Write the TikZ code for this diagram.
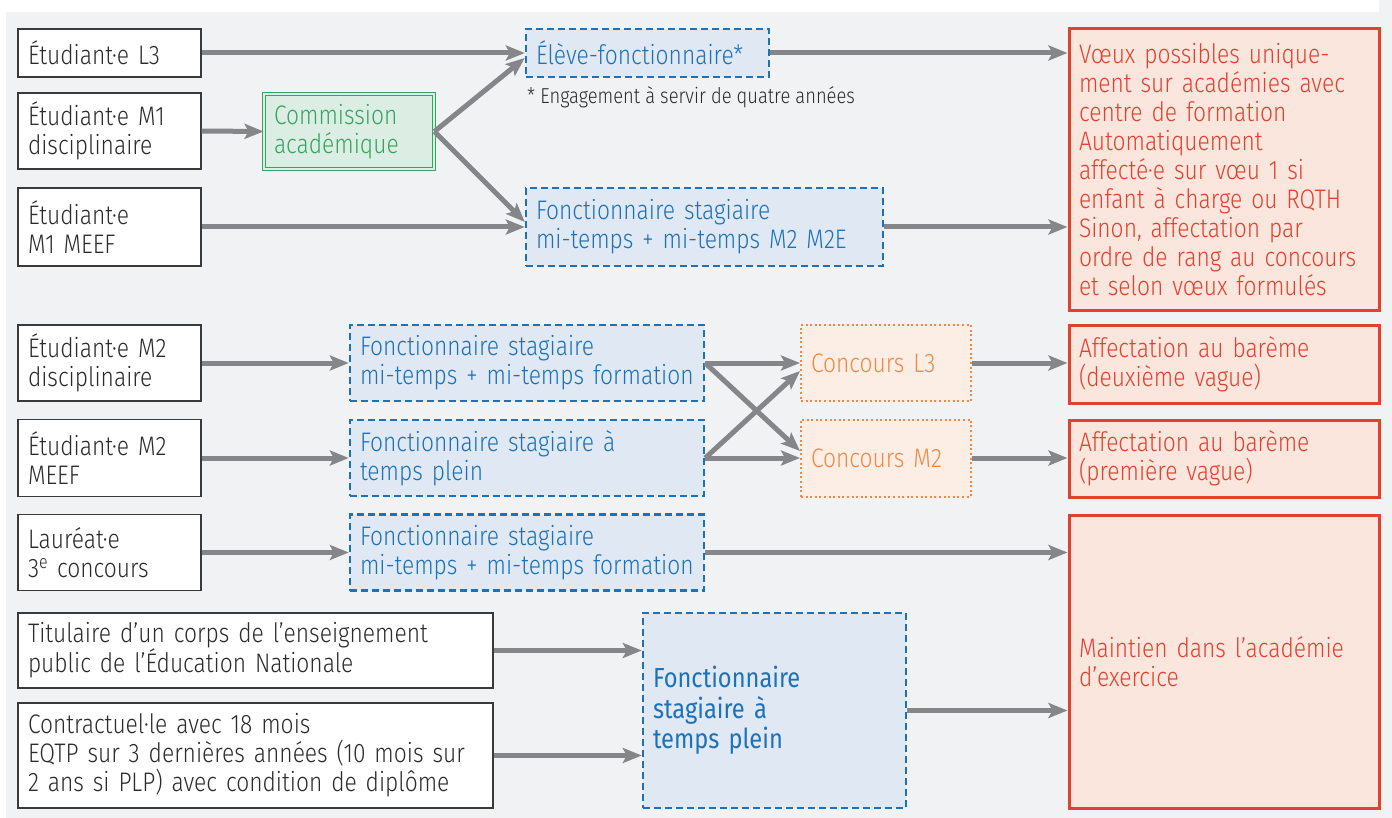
\documentclass[tikz,border=0pt]{standalone}
\usepackage{fontspec}
\setmainfont{Fira Sans Light}[FakeStretch=0.85]
\newfontfamily\medfont{Fira Sans}[FakeStretch=0.86]
\usetikzlibrary{arrows.meta}
\lefthyphenmin=64
\hyphenpenalty=10000
\definecolor{bgc}{HTML}{F1F2F4}
\definecolor{txtc}{HTML}{2B2B2B}
\definecolor{boxc}{HTML}{3A3A3A}
\definecolor{bluec}{HTML}{1B72B8}
\definecolor{bluef}{HTML}{E0E8F3}
\definecolor{greenc}{HTML}{35A463}
\definecolor{greenf}{HTML}{DCEEE3}
\definecolor{orangec}{HTML}{F08945}
\definecolor{orangef}{HTML}{FCEEE4}
\definecolor{redc}{HTML}{E2412F}
\definecolor{redf}{HTML}{FAE6DD}
\definecolor{arrc}{HTML}{85868A}
\begin{document}
\begin{tikzpicture}[x=1pt,y=-1pt,
  base/.style={rectangle, inner xsep=10pt, inner ysep=0pt, align=left, anchor=center,
    font=\fontsize{26.8}{29}\selectfont},
  wbox/.style={base, draw=boxc, line width=1.4pt, fill=white, text=txtc},
  bbox/.style={base, draw=bluec, line width=2.4pt, dash pattern=on 7pt off 4pt, fill=bluef, text=bluec},
  gbox/.style={base, draw=greenc, line width=0.9pt, double=greenf, double distance=1.6pt, fill=greenf, text=greenc},
  obox/.style={base, draw=orangec, line width=2pt, dash pattern=on 2pt off 2.6pt, fill=orangef, text=orangec},
  rbox/.style={base, draw=redc, line width=3pt, fill=redf, text=redc},
  arr/.style={draw=arrc, line width=5pt, -{Stealth[length=19pt,width=15pt,inset=4pt]}},
  sz/.style n args={3}{minimum width=#1pt, minimum height=#2pt, text width=#3pt}
]
\useasboundingbox (0,0) rectangle (1392,818);
\fill[bgc] (6,12) rectangle (1392,818);
\fill[bgc] (1379,0) rectangle (1392,12);

% left column
\node[wbox, sz={183}{48}{163}] (s1) at (109.5,53) {Étudiant·e L3};
\node[wbox, sz={183}{76}{163}] (s2) at (109.5,131) {Étudiant·e M1\\disciplinaire};
\node[wbox, sz={183}{78}{163}] (s3) at (109.5,227) {Étudiant·e\\M1 MEEF};
\node[wbox, sz={183}{76}{163}] (s4) at (109.5,363) {Étudiant·e M2\\disciplinaire};
\node[wbox, sz={183}{77}{163}] (s5) at (109.5,458) {Étudiant·e M2\\MEEF};
\node[wbox, sz={183}{76}{163}] (s6) at (109.5,552.5) {Lauréat·e\\3\textsuperscript{e} concours};
\node[wbox, sz={475}{75}{455}] (tit) at (255.5,650.5) {Titulaire d’un corps de l’enseignement\\public de l’Éducation Nationale};
\node[wbox, sz={475}{105}{455}] (con) at (255.5,755.5) {Contractuel·le avec 18 mois\\EQTP sur 3 dernières années (10 mois sur\\2 ans si PLP) avec condition de diplôme};

% commission
\node[gbox, sz={170}{75}{150}] (com) at (349,131.5) {Commission\\académique};

% blue boxes
\node[bbox, sz={243}{48}{223}] (elev) at (647.5,53) {Élève-fonctionnaire*};
\node[anchor=base west, font=\fontsize{21.6}{24}\selectfont, text=txtc, inner sep=0pt] (fn) at (527,104) {* Engagement à servir de quatre années};
\node[bbox, sz={357}{78}{337}] (fm2e) at (704.5,227) {Fonctionnaire stagiaire\\mi-temps + mi-temps M2 M2E};
\node[bbox, sz={354}{76}{334}] (f1) at (527,363) {Fonctionnaire stagiaire\\mi-temps + mi-temps formation};
\node[bbox, sz={354}{76}{334}] (f2) at (527,458) {Fonctionnaire stagiaire à\\temps plein};
\node[bbox, sz={354}{76}{334}] (f3) at (527,552.5) {Fonctionnaire stagiaire\\mi-temps + mi-temps formation};
\node[bbox, sz={263}{195}{243}, font=\medfont\fontsize{27.5}{30.5}\selectfont] (bf) at (774.5,710.5) {Fonctionnaire\\stagiaire à\\temps plein};

% concours
\node[obox, sz={170}{76}{150}] (cl3) at (886,363) {Concours L3};
\node[obox, sz={170}{77}{150}] (cm2) at (886,458) {Concours M2};

% red boxes
\node[rbox, sz={310}{282}{290}] (r1) at (1224,170) {Vœux possibles unique-\\ment sur académies avec\\centre de formation\\Automatiquement\\affecté·e sur vœu 1 si\\enfant à charge ou RQTH\\Sinon, affectation par\\ordre de rang au concours\\et selon vœux formulés};
\node[rbox, sz={310}{78}{290}] (a2) at (1224,364) {Affectation au barème\\(deuxième vague)};
\node[rbox, sz={310}{77}{290}] (a1) at (1224,458.5) {Affectation au barème\\(première vague)};
\node[rbox, sz={310}{293}{290}] (mt) at (1224,661.5) {Maintien dans l’académie\\d’exercice};

% connectors
\draw[arr] (s1.east) -- (elev.west);
\draw[arr] (s2.east) -- (com.west);
\draw[arr] (com.east) -- ([yshift=-5pt]elev.west);
\draw[arr] (com.east) -- ([yshift=5pt]fm2e.west);
\draw[arr] (s3.east) -- (fm2e.west);
\draw[arr] (elev.east) -- (elev.east -| r1.west);
\draw[arr] (fm2e.east) -- (fm2e.east -| r1.west);
\draw[arr] (s4.east) -- (f1.west);
\draw[arr] (s5.east) -- (f2.west);
\draw[arr] (s6.east) -- (f3.west);
\draw[arr] (f1.east) -- (cl3.west);
\draw[arr] (f2.east) -- (cm2.west);
\draw[arr] (f1.east) -- ([yshift=7pt]cm2.west);
\draw[arr] (f2.east) -- ([yshift=-8pt]cl3.west);
\draw[arr] (cl3.east) -- (cl3.east -| a2.west);
\draw[arr] (cm2.east) -- (cm2.east -| a1.west);
\draw[arr] (f3.east) -- (f3.east -| mt.west);
\draw[arr] (tit.east) -- (tit.east -| bf.west);
\draw[arr] (con.east) -- (con.east -| bf.west);
\draw[arr] (bf.east) -- (bf.east -| mt.west);
\end{tikzpicture}
\end{document}
